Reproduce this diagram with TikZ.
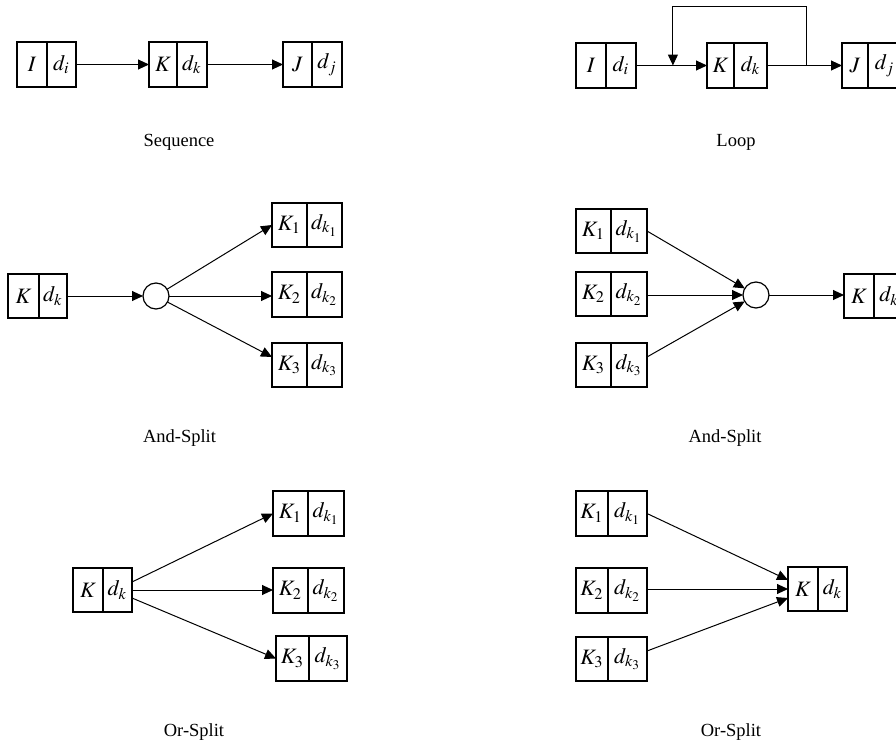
\documentclass[tikz,border=0pt]{standalone}
\usepackage{mathptmx}
\usepackage{fontspec}
\setmainfont{Liberation Serif}
\usetikzlibrary{arrows.meta,calc}
\newcommand\cbox[8]{%
  \node[cell, minimum width={(#3-#2)*0.5pt}, minimum height={(#6-#5)*0.5pt}] (#1L) at ({(#2+#3)/2},{(#5+#6)/2}) {#7};
  \node[cell, minimum width={(#4-#3)*0.5pt}, minimum height={(#6-#5)*0.5pt}] (#1R) at ({(#3+#4)/2},{(#5+#6)/2}) {#8};
}
\begin{document}
\begin{tikzpicture}[x=0.5pt,y=-0.5pt,
  cell/.style={draw, line width=0.6pt, fill=white, inner sep=0pt, outer sep=0pt, font=\fontsize{11}{13}\selectfont},
  lbl/.style={anchor=base, inner sep=0pt, font=\fontsize{9.25}{11}\selectfont},
  arr/.style={line width=0.5pt, -{Triangle[length=5.5pt,width=5pt]}},
  jn/.style={draw, circle, line width=0.6pt, minimum size=13pt, inner sep=0pt, outer sep=0pt, fill=white}]
\useasboundingbox (0,0) rectangle (896,744);

% Sequence
\cbox{sI}{17}{47}{76}{42}{87}{$I$}{$d_i$}
\cbox{sK}{149}{177}{207}{42}{87}{$K$}{$d_k$}
\cbox{sJ}{283}{312}{342}{42}{87}{$J$}{$d_j$}
\draw[arr] (sIR.east) -- (sKL.west);
\draw[arr] (sKR.east) -- (sJL.west);
\node[lbl] (tSeq) at (179,147) {Sequence};

% Loop
\cbox{lI}{576}{606}{636}{43}{88}{$I$}{$d_i$}
\cbox{lK}{707}{734}{767}{43}{88}{$K$}{$d_k$}
\cbox{lJ}{842}{868}{901}{43}{88}{$J$}{$d_j$}
\draw[arr] (lIR.east) -- (lKL.west);
\draw[arr] (lKR.east) -- (lJL.west);
\coordinate (lout) at ($(lKR.east)!0.52!(lJL.west)$);
\coordinate (lin) at ($(lIR.east)!0.52!(lKL.west)$);
\draw[arr] (lout) -- ++(0,-59.5) -| (lin);
\node[lbl] (tLoop) at (736,147) {Loop};

% And-Split
\cbox{aK}{8}{39}{67}{274}{318}{$K$}{$d_k$}
\node[jn] (ac) at (156,296) {};
\cbox{aK1}{272}{307}{342}{203}{247}{$K_1$}{$d_{k_1}$}
\cbox{aK2}{272}{307}{342}{272}{317}{$K_2$}{$d_{k_2}$}
\cbox{aK3}{272}{307}{342}{343}{387}{$K_3$}{$d_{k_3}$}
\draw[arr] (aKR.east) -- (ac);
\draw[arr] (ac) -- (aK1L.west);
\draw[arr] (ac) -- (ac -| aK2L.west);
\draw[arr] (ac) -- ([yshift=4pt]aK3L.west);
\node[lbl] (tAS) at (179.5,442) {And-Split};

% And-Join
\cbox{bK1}{576}{611}{647}{209}{253}{$K_1$}{$d_{k_1}$}
\cbox{bK2}{576}{611}{647}{272}{316}{$K_2$}{$d_{k_2}$}
\cbox{bK3}{576}{611}{647}{343}{387}{$K_3$}{$d_{k_3}$}
\node[jn] (bc) at (756,295) {};
\cbox{bK}{844}{874}{904}{274}{318}{$K$}{$d_k$}
\draw[arr] (bK1R.east) -- (bc);
\draw[arr] (bc -| bK2R.east) -- (bc);
\draw[arr] ([yshift=4pt]bK3R.east) -- (bc);
\draw[arr] (bc) -- (bc -| bKL.west);
\node[lbl] (tAJ) at (725,442) {And-Split};

% Or-Split
\cbox{oK}{73}{103}{132}{568}{612}{$K$}{$d_k$}
\cbox{oK1}{273}{308}{344}{491}{536}{$K_1$}{$d_{k_1}$}
\cbox{oK2}{273}{308}{344}{568}{613}{$K_2$}{$d_{k_2}$}
\cbox{oK3}{276}{309}{347}{636}{681}{$K_3$}{$d_{k_3}$}
\draw[arr] ([yshift=4pt]oKR.east) -- (oK1L.west);
\draw[arr] (oKR.east) -- (oKR.east -| oK2L.west);
\draw[arr] ([yshift=-4pt]oKR.east) -- (oK3L.west);
\node[lbl] (tOS) at (194,736) {Or-Split};

% Or-Join
\cbox{pK1}{576}{608}{647}{491}{536}{$K_1$}{$d_{k_1}$}
\cbox{pK2}{576}{608}{647}{568}{613}{$K_2$}{$d_{k_2}$}
\cbox{pK3}{576}{608}{647}{637}{681}{$K_3$}{$d_{k_3}$}
\cbox{pK}{788}{818}{847}{567}{611}{$K$}{$d_k$}
\draw[arr] (pK1R.east) -- ([yshift=4.5pt]pKL.west);
\draw[arr] (pKL.west -| pK2R.east) -- (pKL.west);
\draw[arr] ([yshift=4pt]pK3R.east) -- ([yshift=-4.5pt]pKL.west);
\node[lbl] (tOJ) at (731,736) {Or-Split};
\end{tikzpicture}
\end{document}
